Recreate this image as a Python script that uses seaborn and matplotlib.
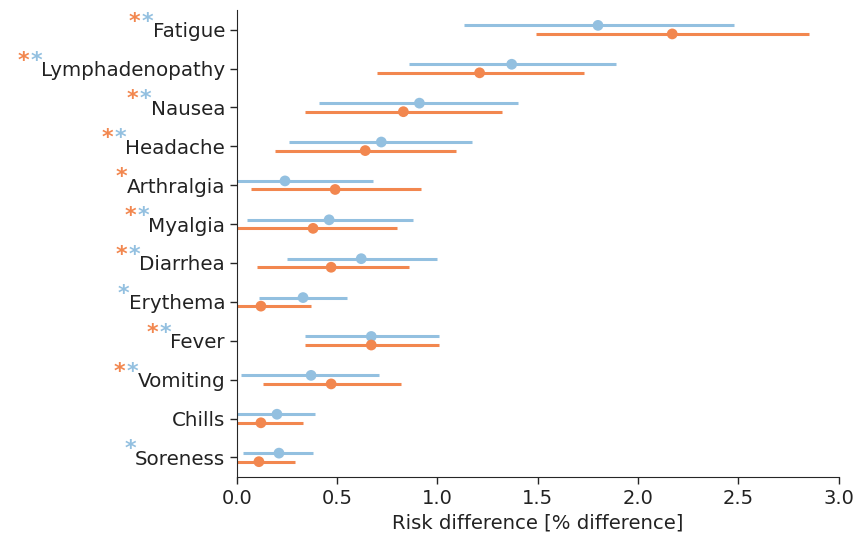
import matplotlib
matplotlib.use("Agg")
import matplotlib.pyplot as plt
import seaborn as sns
import pandas as pd

# -------------------------------
# Data
# -------------------------------
symptoms = ["Fatigue", "Lymphadenopathy", "Nausea", "Headache", "Arthralgia", "Myalgia",
            "Diarrhea", "Erythema", "Fever", "Vomiting", "Chills", "Soreness"]

blue_mid = [1.80, 1.37, 0.91, 0.72, 0.24, 0.46, 0.62, 0.33, 0.67, 0.37, 0.20, 0.21]
blue_lo = [1.13, 0.86, 0.41, 0.26, -0.05, 0.05, 0.25, 0.11, 0.34, 0.02, -0.02, 0.03]
blue_hi = [2.48, 1.89, 1.40, 1.17, 0.68, 0.88, 1.00, 0.55, 1.01, 0.71, 0.39, 0.38]

orange_mid = [2.17, 1.21, 0.83, 0.64, 0.49, 0.38, 0.47, 0.12, 0.67, 0.47, 0.12, 0.11]
orange_lo = [1.49, 0.70, 0.34, 0.19, 0.07, -0.04, 0.10, -0.03, 0.34, 0.13, -0.03, -0.05]
orange_hi = [2.85, 1.73, 1.32, 1.09, 0.92, 0.80, 0.86, 0.37, 1.01, 0.82, 0.33, 0.29]

# significance stars (orange, blue)
star_orange = [1, 1, 1, 1, 1, 1, 1, 0, 1, 1, 0, 0]
star_blue = [1, 1, 1, 1, 0, 1, 1, 1, 1, 1, 0, 1]

BLUE = "#93c0e0"
ORANGE = "#f2874f"

sns.set_style("ticks")
plt.rcParams["font.family"] = ["DejaVu Sans"]

fig = plt.figure(figsize=(8.55, 5.37), dpi=100)
ax = fig.add_axes([0.277, 0.112, 0.704, 0.869])

pos = list(range(len(symptoms)))
off = 0.11
df = pd.DataFrame({
    "y": [p - off for p in pos] + [p + off for p in pos],
    "x": blue_mid + orange_mid,
    "grp": ["blue"] * len(pos) + ["orange"] * len(pos),
})

ax.hlines([p - off for p in pos], blue_lo, blue_hi, color=BLUE, lw=2.2)
ax.hlines([p + off for p in pos], orange_lo, orange_hi, color=ORANGE, lw=2.2)
sns.scatterplot(data=df, x="x", y="y", hue="grp", palette={"blue": BLUE, "orange": ORANGE},
                s=60, edgecolor="none", legend=False, ax=ax, zorder=3)

ax.set_xlim(0, 3.0)
ax.set_ylim(len(symptoms) - 0.5, -0.5)
ax.set_yticks(pos)
ax.set_yticklabels(symptoms, fontsize=14.3, color="#222222")
ax.set_xticks([0, 0.5, 1.0, 1.5, 2.0, 2.5, 3.0])
ax.set_xticklabels(["0.0", "0.5", "1.0", "1.5", "2.0", "2.5", "3.0"], fontsize=14, color="#222222")
ax.set_xlabel("Risk difference [% difference]", fontsize=14.1, color="#222222")
ax.set_ylabel("")
ax.tick_params(axis="both", length=5, width=1)
sns.despine(ax=ax)

# -------------------------------
# Stars before the labels
# -------------------------------
fig.canvas.draw()
renderer = fig.canvas.get_renderer()
inv = fig.transFigure.inverted()
for lab, so, sb in zip(ax.get_yticklabels(), star_orange, star_blue):
    bb = lab.get_window_extent(renderer)
    x = bb.x0 + 1
    y = (bb.y0 + bb.y1) / 2 + 4
    stars = []
    if sb:
        stars.append(BLUE)
    if so:
        stars.append(ORANGE)
    for c in stars:
        fx, fy = inv.transform((x, y))
        fig.text(fx, fy, "*", color=c, fontsize=16, ha="right", va="baseline",
                 fontweight="bold")
        x -= 13

fig.savefig("out.png", dpi=100)
